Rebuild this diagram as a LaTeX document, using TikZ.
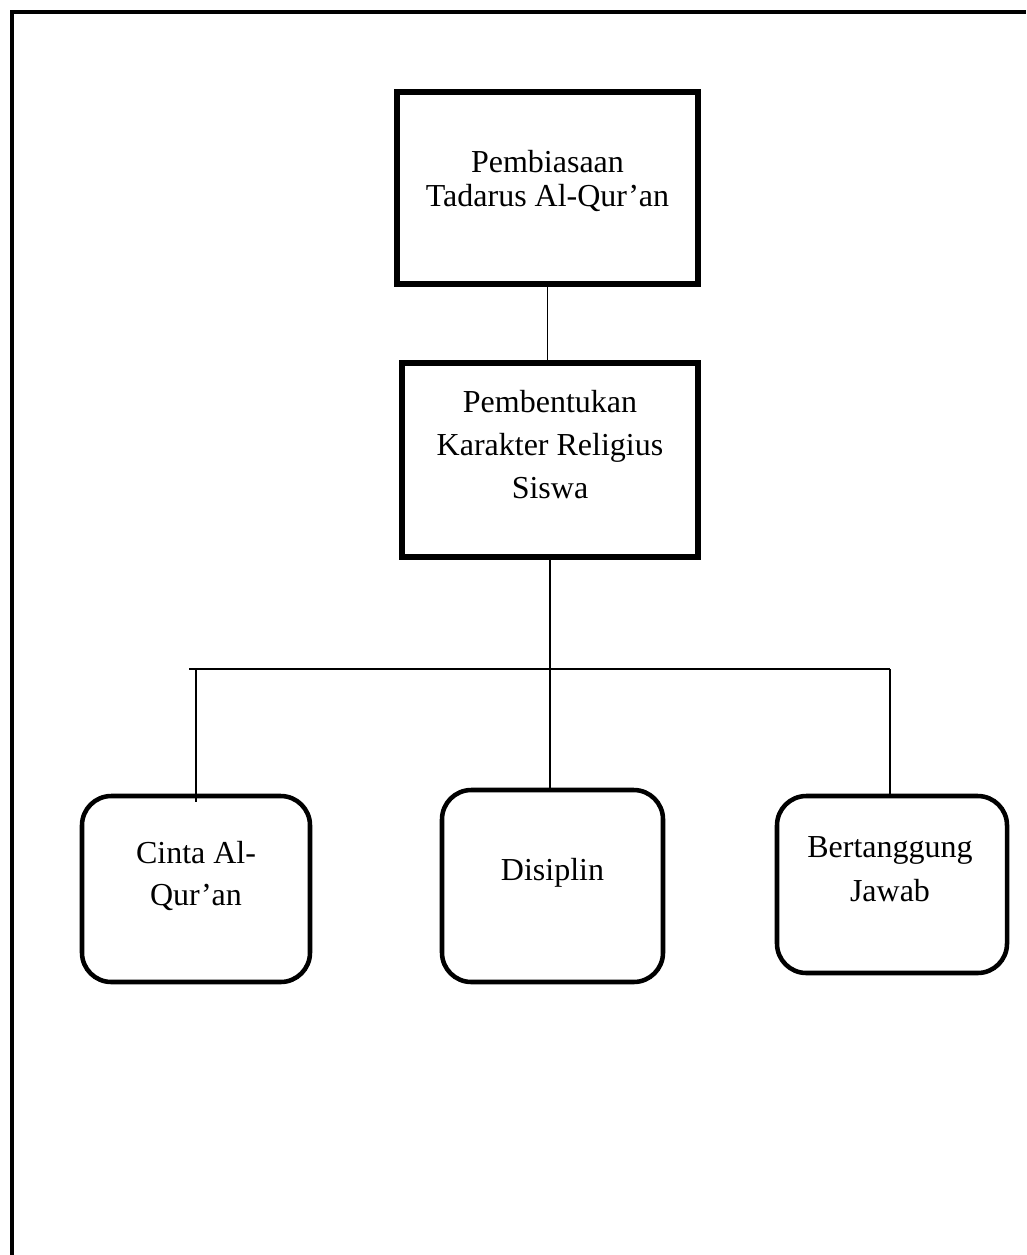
\documentclass[tikz,border=0pt]{standalone}
\usepackage{fontspec}
\setmainfont{Liberation Serif}
\begin{document}
\begin{tikzpicture}[x=0.75pt, y=-0.75pt,
  sqbox/.style={draw=black, line width=3.8pt, rectangle, inner sep=0pt, outer sep=0pt},
  rndbox/.style={draw=black, line width=3.4pt, rectangle, rounded corners=22pt, inner sep=0pt, outer sep=0pt},
  boxtext/.style={align=center, inner sep=0pt, font=\fontsize{24}{25}\selectfont},
  link/.style={draw=black, line width=1.4pt}]
\useasboundingbox (0,0) rectangle (1026,1255);
% page frame
\draw [line width=2.3pt] (12,1255) -- (12,12) -- (1026,12);
% boxes
\node [sqbox, minimum width=225.75pt, minimum height=144pt] (tadarus) at (547.5,188) {};
\node [sqbox, minimum width=222pt, minimum height=145.5pt] (karakter) at (550,460) {};
\node [rndbox, minimum width=171pt, minimum height=139.5pt] (cinta) at (196,889) {};
\node [rndbox, minimum width=165.75pt, minimum height=144pt] (disiplin) at (552.5,886) {};
\node [rndbox, minimum width=172.5pt, minimum height=132.75pt] (jawab) at (892,884.5) {};
% texts
\node [boxtext] (tadarustext) at (547.5,181) {Pembiasaan\\Tadarus Al-Qur’an};
\node [boxtext, font=\fontsize{24}{32}\selectfont] (karaktertext) at (550,444.5) {Pembentukan\\Karakter Religius\\Siswa};
\node [boxtext, font=\fontsize{24}{32}\selectfont] (cintatext) at (196,876) {Cinta Al-\\Qur’an};
\node [boxtext] (disiplintext) at (552.5,872.5) {Disiplin};
\node [boxtext, font=\fontsize{24}{33}\selectfont] (jawabtext) at (890,869) {Bertanggung\\Jawab};
% connectors
\coordinate (barL) at (189,669);
\coordinate (barR) at (890,669);
\draw [link] (tadarus.south) -- (tadarus.south |- karakter.north);
\draw [link] (karakter.south) -- (karakter.south |- disiplin.north);
\draw [link] (barL) -- (barR);
\draw [link, shorten >=-4.5pt] (cinta.north |- barL) -- (cinta.north);
\draw [link] (barR) -- (barR |- jawab.north);
\end{tikzpicture}
\end{document}
